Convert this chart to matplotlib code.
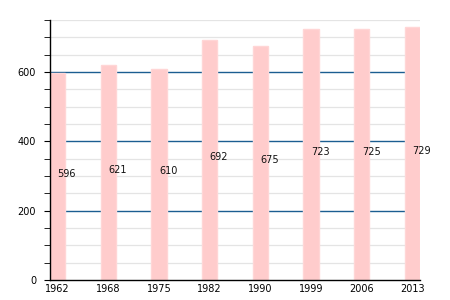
import matplotlib
matplotlib.use("Agg")
import matplotlib.pyplot as plt
import numpy as np

years = ["1962", "1968", "1975", "1982", "1990", "1999", "2006", "2013"]
population = [596, 621, 610, 692, 675, 723, 725, 729]

fig = plt.figure(figsize=(4.5, 3.0), dpi=100)
ax = fig.add_axes([50/450, 20/300, 370/450, 260/300])

x = np.arange(len(years))
ax.set_xlim(-0.15, len(years) - 1 + 0.15)
ax.set_ylim(0, 750)

for v in np.arange(50, 751, 50):
    if v % 200 == 0:
        ax.axhline(v, color="#1b5e91", lw=1.0, zorder=1)
    else:
        ax.axhline(v, color="#e4e4e4", lw=0.9, zorder=0)

ax.bar(x, population, width=0.3, color="#ffcccc", edgecolor="#ffd6d6", lw=1.0, zorder=2)

for xi, v in zip(x, population):
    ax.text(xi, v / 2 + 8, str(v), ha="left", va="center", fontsize=7, color="#111111", zorder=3)

ax.set_xticks(x)
ax.set_xticklabels(years, fontsize=7)
ax.set_yticks([0, 200, 400, 600])
ax.set_yticks(np.arange(0, 751, 50), minor=True)
ax.tick_params(axis="y", which="major", labelsize=7, length=4, pad=6)
ax.tick_params(axis="y", which="minor", length=4)
ax.tick_params(axis="x", length=0, pad=3)

for s in ["top", "right"]:
    ax.spines[s].set_visible(False)
ax.spines["left"].set_linewidth(1.0)
ax.spines["bottom"].set_linewidth(1.0)

fig.savefig("out.png", dpi=100)
